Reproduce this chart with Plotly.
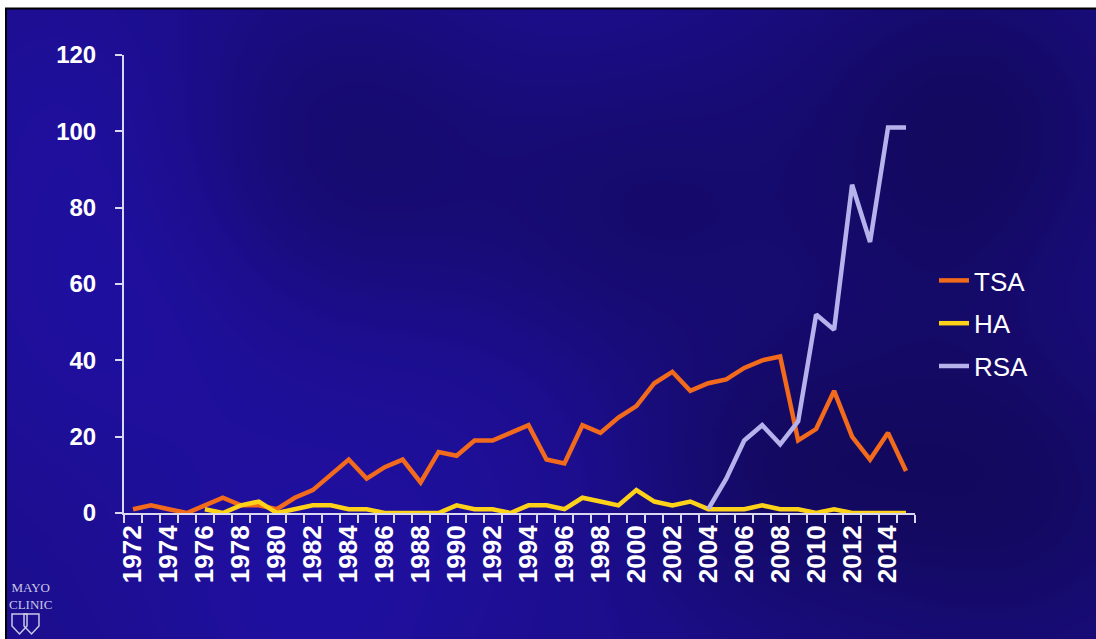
import base64, struct, zlib
import numpy as np
import plotly.graph_objects as go

years = list(range(1972, 2016))
tsa = [1, 2, 1, 0, 2, 4, 2, 2, 1, 4, 6, 10, 14, 9, 12, 14, 8, 16, 15, 19, 19, 21, 23, 14,
       13, 23, 21, 25, 28, 34, 37, 32, 34, 35, 38, 40, 41, 19, 22, 32, 20, 14, 21, 11]
ha_years = list(range(1976, 2016))
ha = [1, 0, 2, 3, 0, 1, 2, 2, 1, 1, 0, 0, 0, 0, 2, 1, 1, 0, 2, 2, 1, 4, 3, 2, 6, 3, 2, 3,
      1, 1, 1, 2, 1, 1, 0, 1, 0, 0, 0, 0]
rsa_years = list(range(2004, 2016))
rsa = [1, 9, 19, 23, 18, 24, 52, 48, 86, 71, 101, 101]
label_years = list(range(1972, 2016, 2))

W, H = 1096, 639
ML, MR, MT, MB = 124, 181, 55, 126
PW, PH = W - ML - MR, H - MT - MB


def px_x(p):
    return (p - ML) / PW


def px_y(p):
    return (H - MB - p) / PH


# decorative cloudy background texture (deterministic gradients)
iw, ih = 274, 160
yy, xx = np.mgrid[0:ih, 0:iw]
xx = xx * (W / iw)
yy = yy * (H / ih)
shade = np.zeros((ih, iw))
blobs = [(340, 150, 120, -0.24), (620, 200, 120, -0.24), (960, 120, 140, -0.30),
         (1000, 480, 150, -0.30), (760, 470, 100, -0.20), (110, 280, 150, 0.14),
         (480, 380, 160, 0.08), (300, 620, 130, 0.12), (1070, 300, 90, 0.06),
         (560, 50, 120, 0.05), (60, 80, 90, 0.06)]
for cx, cy, s, d in blobs:
    shade += d * np.exp(-((xx - cx) ** 2 + (yy - cy) ** 2) / (2 * s * s))
base = np.array([28, 14, 140], dtype=float)
img = np.clip(base[None, None, :] * (1 + shade[..., None]), 0, 255).astype(np.uint8)


def png_bytes(a):
    h, w, _ = a.shape
    raw = b"".join(b"\x00" + a[r].tobytes() for r in range(h))

    def chunk(t, d):
        c = struct.pack(">I", len(d)) + t + d
        return c + struct.pack(">I", zlib.crc32(t + d) & 0xFFFFFFFF)

    return (b"\x89PNG\r\n\x1a\n" + chunk(b"IHDR", struct.pack(">IIBBBBB", w, h, 8, 2, 0, 0, 0))
            + chunk(b"IDAT", zlib.compress(raw, 9)) + chunk(b"IEND", b""))


bg_src = "data:image/png;base64," + base64.b64encode(png_bytes(img)).decode()

fig = go.Figure()
fig.add_trace(go.Scatter(x=years, y=tsa, name="TSA", mode="lines", legendgroup="a",
                         line=dict(color="#f26a1b", width=4.5)))
fig.add_trace(go.Scatter(x=ha_years, y=ha, name="HA", mode="lines", legendgroup="b",
                         line=dict(color="#ffd21a", width=4.5)))
fig.add_trace(go.Scatter(x=rsa_years, y=rsa, name="RSA", mode="lines", legendgroup="c",
                         line=dict(color="#b6b3ec", width=4.5)))

axis_col = "#d9d7f2"
fam = "Liberation Sans, Arial, sans-serif"
ytick_font = dict(family=fam, size=24, color="white", weight="bold")
xtick_font = dict(family=fam, size=26, color="white", weight="bold")


def shield(x0, y0, w, h):
    xs = [x0, x0 + w, x0 + w, x0 + w / 2, x0, x0]
    ys = [y0, y0, y0 + h * 0.6, y0 + h, y0 + h * 0.6, y0]
    pts = [f"{px_x(a):.4f},{px_y(b):.4f}" for a, b in zip(xs, ys)]
    return "M " + " L ".join(pts) + " Z"


logo_line = dict(color="#c9c8e6", width=1.5)

fig.update_layout(
    width=W, height=H,
    margin=dict(l=ML, r=MR, t=MT, b=MB, pad=0),
    paper_bgcolor="white",
    plot_bgcolor="rgba(0,0,0,0)",
    showlegend=True,
    legend=dict(x=px_x(934), y=px_y(257), xanchor="left", yanchor="top",
                bgcolor="rgba(0,0,0,0)", traceorder="grouped", tracegroupgap=6,
                font=dict(family=fam, size=26, color="white")),
    xaxis=dict(range=[1971.5, 2015.5], showgrid=False, zeroline=False,
               showline=True, linecolor=axis_col, linewidth=2,
               tickmode="array", tickvals=label_years, ticktext=[str(y) for y in label_years],
               ticks="", tickangle=-90, tickfont=xtick_font,
               minor=dict(tickmode="array", tickvals=[y - 0.5 for y in years] + [2015.5],
                          ticks="outside", ticklen=8, tickwidth=2, tickcolor=axis_col)),
    yaxis=dict(range=[0, 120], showgrid=False, zeroline=False, dtick=20,
               showline=True, linecolor=axis_col, linewidth=2,
               ticks="outside", ticklen=7, tickwidth=2, tickcolor=axis_col,
               tickfont=ytick_font, ticklabelstandoff=14),
    images=[dict(source=bg_src, xref="paper", yref="paper", x=px_x(6), y=px_y(9),
                 sizex=(W - 6) / PW, sizey=(H - 9) / PH, xanchor="left", yanchor="top",
                 sizing="stretch", layer="below")],
    shapes=[
        dict(type="line", xref="paper", yref="paper", x0=px_x(5), x1=px_x(W + 2),
             y0=px_y(8.5), y1=px_y(8.5), line=dict(color="black", width=2)),
        dict(type="line", xref="paper", yref="paper", x0=px_x(6), x1=px_x(6),
             y0=px_y(8), y1=px_y(H + 2), line=dict(color="black", width=2)),
        dict(type="path", xref="paper", yref="paper", path=shield(12, 614, 15, 20), line=logo_line),
        dict(type="path", xref="paper", yref="paper", path=shield(24, 614, 15, 20), line=logo_line),
    ],
    annotations=[
        dict(text="MAYO<br>CLINIC", xref="paper", yref="paper", x=px_x(30), y=px_y(596),
             xanchor="center", yanchor="middle", showarrow=False, borderpad=0,
             font=dict(family="Liberation Serif, serif", size=13, color="#c9c8e6")),
    ],
)

fig.write_html("out.html")
